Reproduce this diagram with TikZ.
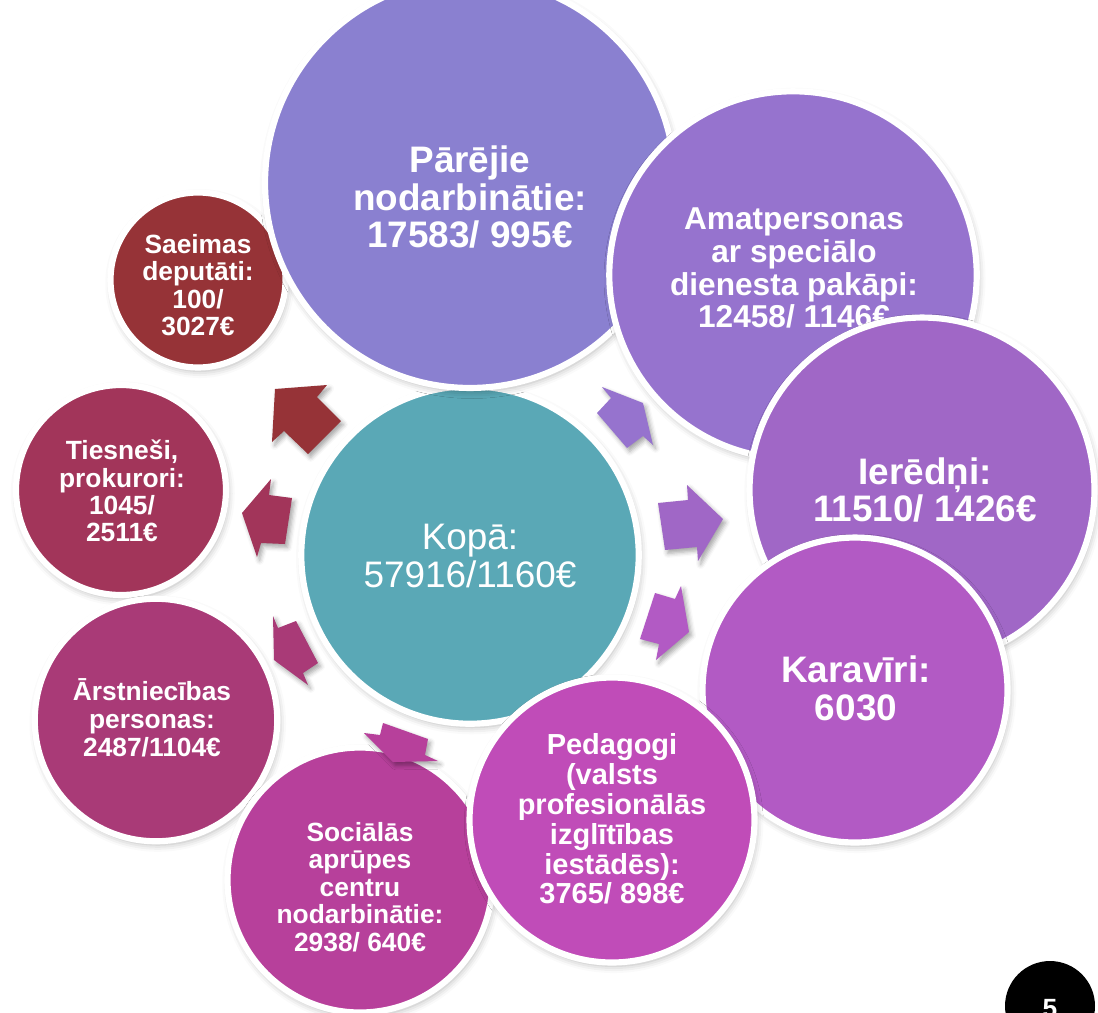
\documentclass[tikz,border=0pt]{standalone}
\usepackage{fontspec}
\setmainfont{Liberation Sans}
\usetikzlibrary{shadows.blur}

\definecolor{saeimas}{HTML}{963337}
\definecolor{tiesnesi}{HTML}{A2355A}
\definecolor{arstn}{HTML}{A93A77}
\definecolor{sociala}{HTML}{B7409B}
\definecolor{pedagogi}{HTML}{C04CB8}
\definecolor{karaviri}{HTML}{B25AC4}
\definecolor{ierednji}{HTML}{A067C6}
\definecolor{amat}{HTML}{9673CE}
\definecolor{parejie}{HTML}{8A80D0}
\definecolor{kopa}{HTML}{5AA8B6}

\tikzset{
  bubble/.style={circle, draw=white, line width=3.5pt, inner sep=0pt,
    blur shadow={shadow xshift=1pt, shadow yshift=-2pt, shadow blur radius=4pt, shadow opacity=30}},
  bubtext/.style={text=white, align=center, inner sep=0pt},
  blkarrow/.style={blur shadow={shadow xshift=1.5pt, shadow yshift=-2pt, shadow blur radius=2.5pt, shadow opacity=35}},
}

\begin{document}
\begin{tikzpicture}[x=0.02cm, y=-0.02cm]
\useasboundingbox (0,0) rectangle (1098,1012);

% outer circles
\node[bubble, fill=saeimas, minimum size=3.5cm] (saeimas) at (198,280) {};
\node[bubtext, font=\fontsize{15}{15.6}\selectfont\bfseries] (saeimas-t) at (198,285) {Saeimas\\deputāti:\\100/\\3027€};

\node[bubble, fill=tiesnesi, minimum size=4.2cm] (tiesnesi) at (121,490) {};
\node[bubtext, font=\fontsize{15}{15.6}\selectfont\bfseries] (tiesnesi-t) at (122,491) {Tiesneši,\\prokurori:\\1045/\\2511€};

\node[bubble, fill=arstn, minimum size=4.85cm] (arstn) at (156,720) {};
\node[bubtext, font=\fontsize{15}{16}\selectfont\bfseries] (arstn-t) at (152,718) {Ārstniecības\\personas:\\2487/1104€};

\node[bubble, fill=sociala, minimum size=5.3cm] (sociala) at (360,880) {};
\node[bubtext, font=\fontsize{15}{15.6}\selectfont\bfseries] (sociala-t) at (360,887) {Sociālās\\aprūpes\\centru\\nodarbinātie:\\2938/ 640€};

\node[bubble, fill=kopa, minimum size=6.75cm] (kopa) at (470,555) {};
\node[bubtext, font=\fontsize{21}{21.5}\selectfont] (kopa-t) at (470,556) {Kopā:\\57916/1160€};

\node[bubble, fill=parejie, minimum size=8.2cm] (parejie) at (470,183) {};
\node[bubtext, font=\fontsize{21}{21.5}\selectfont\bfseries] (parejie-t) at (470,197) {Pārējie\\nodarbinātie:\\17583/ 995€};

\node[bubble, fill=amat, minimum size=7.35cm] (amat) at (793,275) {};
\node[bubtext, font=\fontsize{18}{18.7}\selectfont\bfseries] (amat-t) at (794,268) {Amatpersonas\\ar speciālo\\dienesta pakāpi:\\12458/ 1146€};

\node[bubble, fill=ierednji, minimum size=6.9cm] (ierednji) at (922,490) {};
\node[bubtext, font=\fontsize{21}{21.5}\selectfont\bfseries] (ierednji-t) at (925,490) {Ierēdņi:\\11510/ 1426€};

\node[bubble, fill=karaviri, minimum size=6.1cm] (karaviri) at (855,690) {};
\node[bubtext, font=\fontsize{21}{21.5}\selectfont\bfseries] (karaviri-t) at (856,688) {Karavīri:\\6030};

\node[bubble, fill=pedagogi, minimum size=5.7cm] (pedagogi) at (612,820) {};
\node[bubtext, font=\fontsize{16.5}{17}\selectfont\bfseries] (pedagogi-t) at (612,819) {Pedagogi\\(valsts\\profesionālās\\izglītības\\iestādēs):\\3765/ 898€};

% block arrows
\fill[blkarrow, fill=saeimas] (275,389) -- (327,385) -- (317,397) -- (341,421) -- (308,454) -- (284,431) -- (272,442) -- cycle;
\fill[blkarrow, fill=amat] (602,387) -- (643,403) -- (653,445) -- (643,436) -- (627,448) -- (597,413) -- (611,398) -- cycle;
\fill[blkarrow, fill=ierednji] (658,503) -- (688,500) -- (687,485) -- (723,519) -- (698,561) -- (697,547) -- (665,550) -- cycle;
\fill[blkarrow, fill=karaviri] (655,593) -- (675,599) -- (681,586) -- (689,632) -- (656,660) -- (659,644) -- (640,639) -- cycle;
\fill[blkarrow, fill=sociala] (364,733) -- (380,735) -- (383,723) -- (428,739) -- (425,755) -- (438,761) -- (393,762) -- cycle;
\fill[blkarrow, fill=arstn] (273,616) -- (278,628) -- (296,621) -- (318,663) -- (303,673) -- (308,685) -- (274,660) -- cycle;
\fill[blkarrow, fill=tiesnesi] (271,479) -- (269,495) -- (292,498) -- (285,544) -- (261,543) -- (257,557) -- (242,513) -- cycle;

% page number
\node[circle, fill=black, minimum size=1.8cm] (pagenr) at (1050,1006) {};
\node[text=white, font=\fontsize{15}{15}\selectfont\bfseries] (pagenr-t) at (1050,1009) {5};
\end{tikzpicture}
\end{document}
